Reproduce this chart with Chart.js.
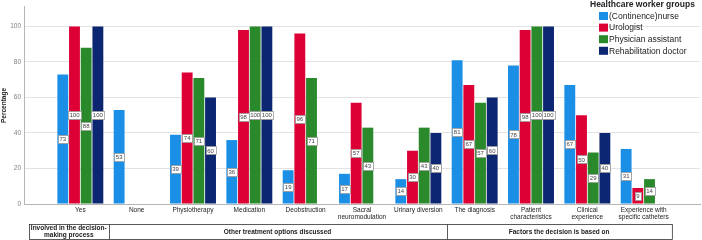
<!DOCTYPE html>
<html>
<head>
<meta charset="utf-8">
<script src="https://cdn.jsdelivr.net/npm/chart.js@4.4.1/dist/chart.umd.min.js"></script>
<style>
  html, body { margin: 0; padding: 0; background: #fff; }
  #wrap { width: 702px; height: 240px; }
</style>
</head>
<body>
<div id="wrap"><canvas id="chart" width="702" height="240"></canvas></div>
<script>
const categories = [
    'Yes', 'None', 'Physiotherapy', 'Medication', 'Deobstruction',
    ['Sacral', 'neuromodulation'], 'Urinary diversion', 'The diagnosis',
    ['Patient', 'characteristics'], ['Clinical', 'experience'],
    ['Experience with', 'specific catheters']
];
const groupNames = ['(Continence)nurse', 'Urologist', 'Physician assistant', 'Rehabilitation doctor'];
const nurse = [73, 53, 39, 36, 19, 17, 14, 81, 78, 67, 31];
const urologist = [100, null, 74, 98, 96, 57, 30, 67, 98, 50, 9];
const physAssistant = [88, null, 71, 100, 71, 43, 43, 57, 100, 29, 14];
const rehabDoctor = [100, null, 60, 100, null, null, 40, 60, 100, 40, null];
const yTicks = [0, 20, 40, 60, 80, 100];
const sections = [
    { label: ['Involved in the decision-', 'making process'] },
    { label: ['Other treatment options discussed'] },
    { label: ['Factors the decision is based on'] }
];
const colors = ['#1b8fe6', '#dc0035', '#2a8a2b', '#0d2671'];

const FONT = "'Liberation Sans', Arial, sans-serif";

const datasets = [nurse, urologist, physAssistant, rehabDoctor].map((vals, k) => ({
    label: groupNames[k],
    data: vals.map((v, i) => ({ x: i, y: v })),
    backgroundColor: colors[k],
    borderColor: colors[k],
    borderWidth: 0,
    categoryPercentage: 0.83,
    barPercentage: 0.93
}));

// boxed value labels in the middle of each bar
const valueLabels = {
    id: 'valueLabels',
    afterDatasetsDraw(chart) {
        const ctx = chart.ctx;
        ctx.save();
        ctx.font = '6px ' + FONT;
        ctx.textAlign = 'center';
        ctx.textBaseline = 'middle';
        chart.data.datasets.forEach((ds, di) => {
            const meta = chart.getDatasetMeta(di);
            meta.data.forEach((el, i) => {
                const v = ds.data[i].y;
                if (v === null) return;
                const txt = String(v);
                const w = ctx.measureText(txt).width + 3;
                const h = 8;
                const cx = el.x;
                const cy = (el.y + el.base) / 2;
                ctx.fillStyle = '#fff';
                ctx.fillRect(Math.round(cx - w / 2) + 0.5, Math.round(cy - h / 2) + 0.5, Math.round(w), h);
                ctx.strokeStyle = '#9a9a9a';
                ctx.lineWidth = 0.8;
                ctx.strokeRect(Math.round(cx - w / 2) + 0.5, Math.round(cy - h / 2) + 0.5, Math.round(w), h);
                ctx.fillStyle = '#444';
                ctx.fillText(txt, cx, cy + 0.5);
            });
        });
        ctx.restore();
    }
};

// legend overlay at top right + section table below the axis
const extras = {
    id: 'extras',
    afterDraw(chart) {
        const ctx = chart.ctx;
        ctx.save();
        // legend
        ctx.textBaseline = 'middle';
        ctx.textAlign = 'left';
        ctx.font = 'bold 8.5px ' + FONT;
        ctx.fillStyle = '#222';
        ctx.fillText('Healthcare worker groups', 590, 5);
        ctx.font = '8.5px ' + FONT;
        groupNames.forEach((n, k) => {
            const y = 16 + k * 11.6;
            ctx.fillStyle = colors[k];
            ctx.fillRect(599, y - 4, 9, 8);
            ctx.fillStyle = '#222';
            ctx.fillText(n, 609, y + 0.5);
        });

        // section table
        const xs = chart.scales.x;
        const x0 = 29;
        const d1 = (xs.getPixelForValue(0) + xs.getPixelForValue(1)) / 2;
        const d2 = (xs.getPixelForValue(6) + xs.getPixelForValue(7)) / 2;
        const x3 = xs.getPixelForValue(10.5);
        const top = 224.5, bot = 239.5;
        ctx.strokeStyle = '#333';
        ctx.lineWidth = 0.8;
        ctx.strokeRect(x0 + 0.5, top, x3 - x0, bot - top);
        [d1, d2].forEach(d => {
            ctx.beginPath();
            ctx.moveTo(Math.round(d) + 0.5, top);
            ctx.lineTo(Math.round(d) + 0.5, bot);
            ctx.stroke();
        });
        ctx.font = 'bold 6.5px ' + FONT;
        ctx.fillStyle = '#222';
        ctx.textAlign = 'center';
        const bounds = [[x0, d1], [d1, d2], [d2, x3]];
        sections.forEach((s, k) => {
            const cx = (bounds[k][0] + bounds[k][1]) / 2;
            const n = s.label.length;
            s.label.forEach((line, j) => {
                const cy = (top + bot) / 2 + (j - (n - 1) / 2) * 7;
                ctx.fillText(line, cx, cy);
            });
        });
        ctx.restore();
    }
};

new Chart(document.getElementById('chart'), {
    type: 'bar',
    data: { datasets },
    options: {
        responsive: false,
        devicePixelRatio: 1,
        animation: false,
        layout: { padding: { top: 2, right: 1, left: 0, bottom: 0 } },
        plugins: {
            legend: { display: false },
            tooltip: { enabled: false }
        },
        scales: {
            x: {
                type: 'linear',
                min: -1,
                max: 11,
                offset: false,
                grid: { display: false, drawTicks: false },
                border: { color: '#b5b5b5', width: 1 },
                ticks: {
                    stepSize: 1,
                    autoSkip: false,
                    maxRotation: 0,
                    padding: 2,
                    color: '#222',
                    font: { family: FONT, size: 6.5, lineHeight: 1.15 },
                    callback: (v) => (Number.isInteger(v) && v >= 0 && v < categories.length) ? categories[v] : ''
                },
                afterFit: (s) => { s.height = 36; }
            },
            y: {
                min: 0,
                max: 111,
                grid: { color: '#e3e3e3', drawTicks: false },
                border: { color: '#b5b5b5', width: 1 },
                ticks: {
                    stepSize: 20,
                    padding: 3,
                    color: '#808080',
                    font: { family: FONT, size: 6.5 }
                },
                afterBuildTicks: (s) => { s.ticks = yTicks.map(v => ({ value: v })); },
                title: {
                    display: true,
                    text: 'Percentage',
                    color: '#222',
                    padding: 0,
                    font: { family: FONT, size: 6.5, weight: 'bold' }
                },
                afterFit: (s) => { s.width = 24; }
            }
        }
    },
    plugins: [valueLabels, extras]
});
</script>
</body>
</html>
